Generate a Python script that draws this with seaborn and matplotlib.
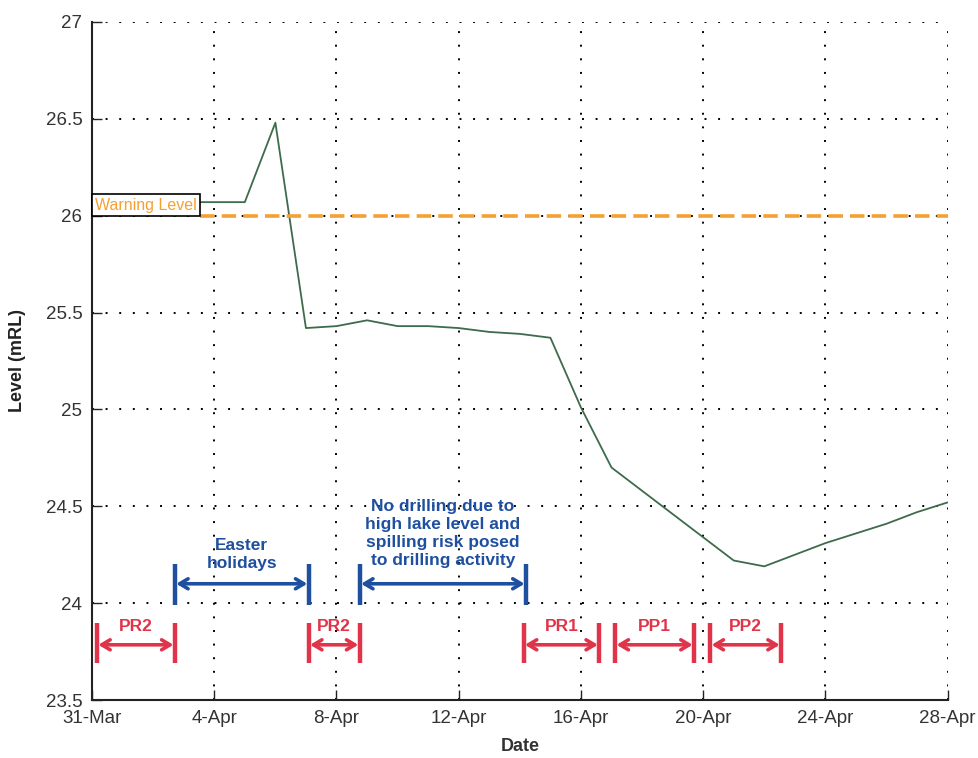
import numpy as np
import pandas as pd
import matplotlib
matplotlib.use("Agg")
import matplotlib.pyplot as plt
import matplotlib.dates as mdates
from matplotlib.ticker import MultipleLocator
import seaborn as sns

# ---------------- data ----------------
start_date = "2015-03-31"
day_offsets = list(range(29))
levels = [26.07, 26.07, 26.07, 26.07, 26.07, 26.07, 26.48, 25.42, 25.43, 25.46,
          25.43, 25.43, 25.42, 25.40, 25.39, 25.37, 25.01, 24.70, 24.58, 24.46,
          24.34, 24.22, 24.19, 24.25, 24.31, 24.36, 24.41, 24.47, 24.52]
warning_level = 26.0
warning_label = "Warning Level"

blue_labels = ["Easter\nholidays",
               "No drilling due to\nhigh lake level and\nspilling risk posed\nto drilling activity"]
blue_starts = [2.71, 8.76]
blue_ends = [7.09, 14.2]

red_labels = ["PR2", "PR2", "PR1", "PP1", "PP2"]
red_starts = [0.16, 7.09, 14.12, 17.12, 20.23]
red_ends = [2.71, 8.76, 16.6, 19.7, 22.55]

tick_days = [0, 4, 8, 12, 16, 20, 24, 28]
# --------------------------------------

base = pd.Timestamp(start_date)
def to_date(d):
    return base + pd.to_timedelta(d, unit="D")

df = pd.DataFrame({"Date": [to_date(d) for d in day_offsets], "Level": levels})

sns.set_theme(style="white")
plt.rcParams["font.family"] = ["Liberation Sans Narrow", "Liberation Sans", "DejaVu Sans"]

fig = plt.figure(figsize=(9.79, 7.58), dpi=100)
ax = fig.add_axes([0.094, 0.0765, 0.874, 0.8945])

sns.lineplot(data=df, x="Date", y="Level", ax=ax, color="#3d6b4b", linewidth=1.3)

ax.set_xlim(to_date(0), to_date(28))
ax.set_ylim(23.5, 27)

ax.set_xticks([to_date(d) for d in tick_days])
ax.xaxis.set_major_formatter(mdates.DateFormatter("%-d-%b"))
ax.xaxis.set_minor_locator(mdates.DayLocator())
ax.yaxis.set_major_locator(MultipleLocator(0.5))
ax.yaxis.set_minor_locator(MultipleLocator(0.1))
ax.yaxis.set_major_formatter(matplotlib.ticker.FuncFormatter(lambda v, p: f"{v:g}"))

ax.tick_params(axis="both", which="major", direction="in", length=7, width=1,
               labelsize=13.5, labelcolor="#333333", color="#222222", pad=7)
ax.tick_params(axis="both", which="minor", direction="in", length=4, width=1, color="#222222")
ax.tick_params(axis="x", which="major", bottom=True)
ax.tick_params(axis="y", which="major", left=True)

ax.grid(True, which="major", color="black", linestyle=(0, (1, 6)), linewidth=1.4)
for s in ["top", "right"]:
    ax.spines[s].set_visible(False)
for s in ["left", "bottom"]:
    ax.spines[s].set_color("#222222")
    ax.spines[s].set_linewidth(1.5)

ax.set_xlabel("Date", fontsize=13, fontweight="bold", color="#333333", labelpad=8,
              family=["Liberation Sans", "DejaVu Sans"])
ax.set_ylabel("Level (mRL)", fontsize=13, fontweight="bold", color="#222222", labelpad=14,
              family=["Liberation Sans", "DejaVu Sans"])

# warning level
orange = "#f5a033"
ax.hlines(warning_level, to_date(3.53), to_date(28), colors=orange, linestyles=(0, (4, 2)),
          linewidth=2.6, zorder=3)
ax.text(to_date(0.1), warning_level + 0.053, warning_label, color=orange, fontsize=11.5,
        ha="left", va="center", zorder=5,
        bbox=dict(boxstyle="square,pad=0.22", facecolor="white", edgecolor="black", linewidth=1.2))

def bracket(ax, s, e, y0, y1, ya, color, label, ly, fs, lsp):
    ax.vlines([to_date(s), to_date(e)], y0, y1, colors=color, linewidth=3.2, zorder=4)
    ax.annotate("", xy=(to_date(e), ya), xytext=(to_date(s), ya),
                arrowprops=dict(arrowstyle="<->,head_length=0.5,head_width=0.3",
                                color=color, lw=2.6, shrinkA=1, shrinkB=1), zorder=4)
    mid = (s + e) / 2
    ax.text(to_date(mid), ly, label, color=color, fontsize=fs, fontweight="bold",
            ha="center", va="center", linespacing=lsp, zorder=5,
            family=["Liberation Sans", "DejaVu Sans"])

blue = "#1f4f9f"
red = "#e0344a"
blue_text_y = [24.25, 24.36]
for lab, s, e, ty in zip(blue_labels, blue_starts, blue_ends, blue_text_y):
    bracket(ax, s, e, 23.99, 24.2, 24.1, blue, lab, ty, 12.5, 1.25)

for lab, s, e in zip(red_labels, red_starts, red_ends):
    bracket(ax, s, e, 23.69, 23.9, 23.785, red, lab, 23.88, 12.5, 1.0)

fig.savefig("out.png", dpi=100)
